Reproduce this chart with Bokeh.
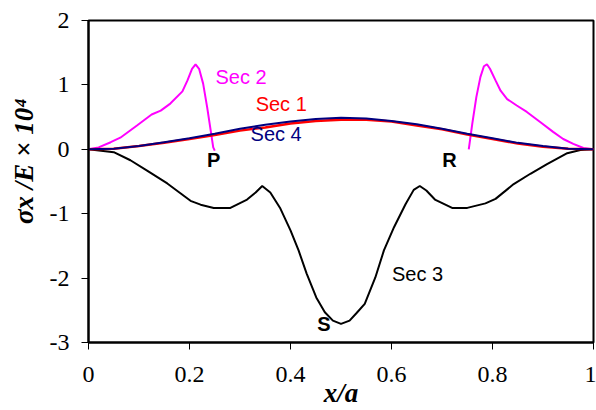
from bokeh.plotting import figure
from bokeh.models import Label, FixedTicker, Range1d
from bokeh.embed import file_html
from bokeh.resources import INLINE

# ---- data ----
x_ticks = [0, 0.2, 0.4, 0.6, 0.8, 1]
x_tick_labels = ["0", "0.2", "0.4", "0.6", "0.8", "1"]
y_ticks = [-3, -2, -1, 0, 1, 2]
y_tick_labels = ["-3", "-2", "-1", "0", "1", "2"]

sec1_x = [0, 0.05, 0.1, 0.15, 0.2, 0.25, 0.3, 0.35, 0.4, 0.45, 0.5, 0.55, 0.6, 0.65, 0.7, 0.75, 0.8, 0.85, 0.9, 0.95, 1.0]
sec1_y = [0, 0.01, 0.05, 0.10, 0.16, 0.22, 0.29, 0.34, 0.40, 0.44, 0.46, 0.46, 0.43, 0.37, 0.31, 0.23, 0.16, 0.09, 0.04, 0.01, 0]
sec4_x = [0, 0.05, 0.1, 0.15, 0.2, 0.25, 0.3, 0.35, 0.4, 0.45, 0.5, 0.55, 0.6, 0.65, 0.7, 0.75, 0.8, 0.85, 0.9, 0.95, 1.0]
sec4_y = [0, 0.01, 0.05, 0.11, 0.17, 0.24, 0.32, 0.38, 0.43, 0.47, 0.49, 0.48, 0.44, 0.39, 0.32, 0.24, 0.17, 0.10, 0.05, 0.01, 0]

sec2a_x = [0, 0.02, 0.044, 0.063, 0.096, 0.125, 0.143, 0.162, 0.186, 0.196, 0.205, 0.212, 0.219, 0.227, 0.235, 0.242, 0.247, 0.25]
sec2a_y = [0, 0.03, 0.11, 0.18, 0.37, 0.54, 0.60, 0.71, 0.90, 1.07, 1.25, 1.32, 1.25, 1.02, 0.65, 0.29, 0.03, -0.02]
sec2b_x = [0.753, 0.76, 0.768, 0.776, 0.783, 0.789, 0.795, 0.806, 0.816, 0.829, 0.848, 0.868, 0.895, 0.92, 0.94, 0.96, 0.98, 1.0]
sec2b_y = [0.0, 0.40, 0.81, 1.12, 1.29, 1.32, 1.25, 1.07, 0.91, 0.78, 0.68, 0.58, 0.42, 0.27, 0.16, 0.085, 0.02, 0]

sec3_x = [0, 0.05, 0.083, 0.116, 0.156, 0.202, 0.222, 0.248, 0.281, 0.314, 0.331, 0.344, 0.36, 0.38, 0.40,
          0.416, 0.432, 0.451, 0.468, 0.484, 0.50, 0.517, 0.53, 0.547, 0.568, 0.585, 0.605, 0.628, 0.644, 0.656,
          0.669, 0.686, 0.72, 0.75, 0.786, 0.806, 0.842, 0.875, 0.908, 0.948, 0.974, 1.0]
sec3_y = [0, -0.045, -0.17, -0.33, -0.53, -0.80, -0.86, -0.91, -0.91, -0.78, -0.67, -0.57, -0.67, -0.92, -1.26,
          -1.57, -1.93, -2.30, -2.53, -2.66, -2.71, -2.66, -2.55, -2.40, -1.99, -1.57, -1.21, -0.85, -0.63, -0.57,
          -0.64, -0.78, -0.91, -0.91, -0.84, -0.77, -0.54, -0.38, -0.23, -0.06, -0.01, 0]

SERIF = "Liberation Serif"

# ---- figure ----
p = figure(width=596, height=410, output_backend="svg", toolbar_location=None,
           x_range=Range1d(0, 1), y_range=Range1d(-3, 2),
           min_border_left=88, min_border_right=3, min_border_top=20, min_border_bottom=68)
p.background_fill_color = "white"
p.border_fill_color = "white"
p.grid.visible = False
p.outline_line_color = "black"
p.outline_line_width = 2
p.outline_line_alpha = 1

for ax in (p.xaxis, p.yaxis):
    ax.axis_line_width = 2
    ax.axis_line_color = "black"
    ax.major_tick_line_color = "black"
    ax.major_tick_line_width = 1
    ax.major_tick_out = 7
    ax.major_tick_in = 0
    ax.minor_tick_line_color = None
    ax.major_label_text_font = SERIF
    ax.major_label_text_font_size = "24px"
    ax.major_label_text_font_style = "normal"
    ax.major_label_text_color = "black"
    ax.axis_label_text_font = SERIF
    ax.axis_label_text_font_size = "27px"
    ax.axis_label_text_font_style = "bold italic"
    ax.axis_label_text_color = "black"

p.xaxis.ticker = FixedTicker(ticks=x_ticks)
p.xaxis.major_label_overrides = dict(zip(x_ticks, x_tick_labels))
p.xaxis.major_label_standoff = 17
p.xaxis.axis_label = "x/a"
p.xaxis.axis_label_standoff = -7

p.yaxis.ticker = FixedTicker(ticks=y_ticks)
p.yaxis.major_label_overrides = dict(zip(y_ticks, y_tick_labels))
p.yaxis.major_label_standoff = 12
p.yaxis.axis_label = "\u00a0" * 6 + "σx /E × 10⁴"
p.yaxis.axis_label_standoff = 8

# ---- curves ----
p.line(sec3_x, sec3_y, line_color="black", line_width=2)
p.line(sec2a_x, sec2a_y, line_color="#FF00FF", line_width=2)
p.line(sec2b_x, sec2b_y, line_color="#FF00FF", line_width=2)
p.line(sec1_x, sec1_y, line_color="#FF0000", line_width=2.5)
p.line(sec4_x, sec4_y, line_color="#000080", line_width=2)

# ---- annotations ----
def lab(x, y, text, color="black", style="normal", align="left"):
    p.add_layout(Label(x=x, y=y, text=text, text_color=color, text_font="Liberation Sans",
                       text_font_size="20px", text_font_style=style, text_align=align,
                       text_baseline="middle"))

lab(0.2515, 1.13, "Sec 2", color="#FF00FF")
lab(0.331, 0.70, "Sec 1", color="#FF0000")
lab(0.321, 0.23, "Sec 4", color="#000080")
lab(0.601, -1.93, "Sec 3")
lab(0.248, -0.16, "P", style="bold", align="center")
lab(0.715, -0.17, "R", style="bold", align="center")
lab(0.466, -2.71, "S", style="bold", align="center")

open("out.html", "w").write(file_html(p, INLINE))
